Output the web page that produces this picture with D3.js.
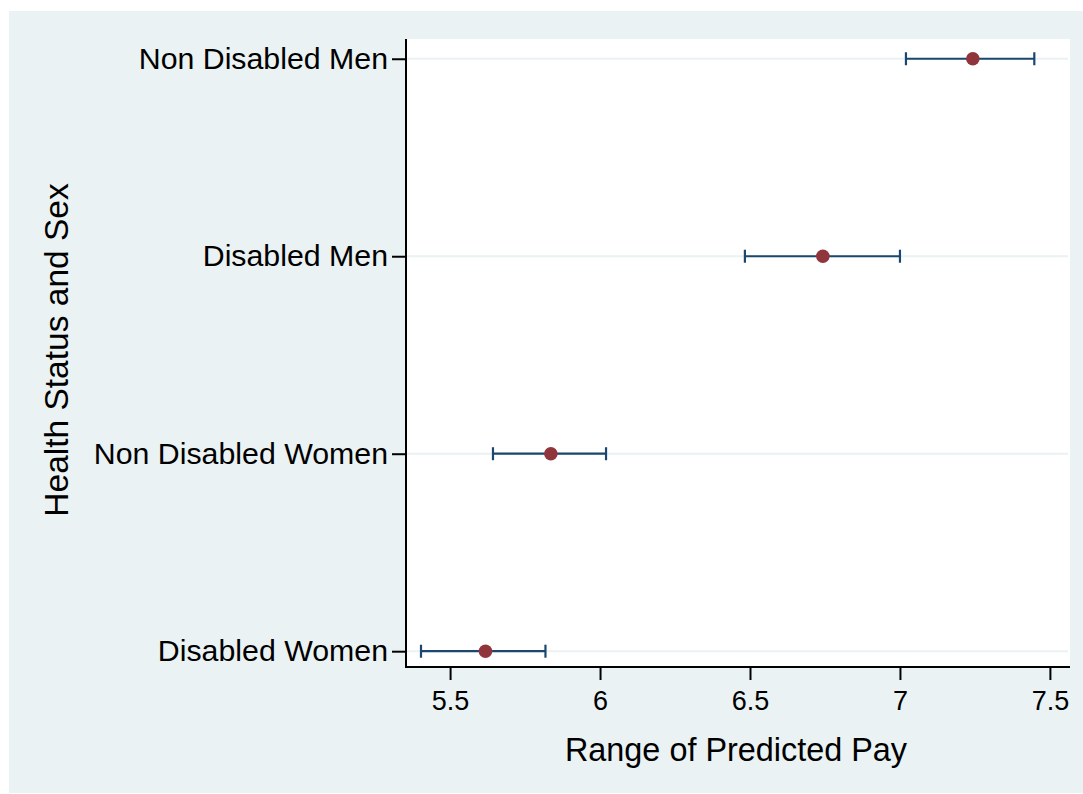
<!DOCTYPE html>
<html>
<head>
<meta charset="utf-8">
<script src="https://cdn.jsdelivr.net/npm/d3@7"></script>
<style>
  body { margin: 0; background: #ffffff; }
  svg text { font-family: "Liberation Sans", Arial, sans-serif; fill: #000; }
</style>
</head>
<body>
<div class="chartdiv"></div>
<script>
// categories top to bottom
const categories = ['Non Disabled Men', 'Disabled Men', 'Non Disabled Women', 'Disabled Women']
// predicted pay and confidence limits
const predicted = [7.243, 6.743, 5.836, 5.618]
const lowerCI = [7.020, 6.483, 5.643, 5.403]
const upperCI = [7.448, 7.000, 6.020, 5.818]
const xTicks = [5.5, 6, 6.5, 7, 7.5]

const W = 1083, H = 794
const plot = { left: 406, top: 39, right: 1070, bottom: 667 }

const svg = d3.select('.chartdiv').append('svg')
    .attr('width', W)
    .attr('height', H)

// outer graph region
svg.append('rect')
    .attr('x', 9).attr('y', 11)
    .attr('width', W - 9).attr('height', H - 12)
    .attr('fill', '#EAF2F3')

// plot region
svg.append('rect')
    .attr('x', plot.left).attr('y', plot.top)
    .attr('width', plot.right - plot.left).attr('height', plot.bottom - plot.top)
    .attr('fill', '#ffffff')

const xScale = d3.scaleLinear()
    .domain([5.353, 7.567])
    .range([plot.left, plot.right])

const yScale = d3.scaleLinear()
    .domain([-0.1, 3.08])
    .range([plot.top, plot.bottom])

const data = categories.map((c, i) => ({
    cat: c, idx: i, y: predicted[i], lo: lowerCI[i], hi: upperCI[i]
}))

// horizontal grid lines
svg.append('g')
    .selectAll('line')
    .data(data)
    .enter()
    .append('line')
    .attr('x1', plot.left + 1)
    .attr('x2', plot.right - 2)
    .attr('y1', d => yScale(d.idx))
    .attr('y2', d => yScale(d.idx))
    .attr('stroke', '#EAF2F3')
    .attr('stroke-width', 2)

// axes
let xAxis = d3.axisBottom(xScale)
    .tickValues(xTicks)
    .tickFormat(d3.format('~g'))
    .tickSize(13)
    .tickSizeOuter(0)
    .tickPadding(11)

let gx = svg.append('g')
    .attr('transform', 'translate(0,' + plot.bottom + ')')
    .call(xAxis)
gx.select('.domain').attr('stroke', '#000').attr('stroke-width', 2)
    .attr('d', 'M' + plot.left + ',0H' + plot.right)
gx.selectAll('.tick line').attr('stroke', '#000').attr('stroke-width', 2)
gx.selectAll('.tick text')
    .style('font-size', '27px')
    .attr('fill', '#000')
    .attr('font-family', null)

let yAxis = d3.axisLeft(yScale)
    .tickValues(d3.range(categories.length))
    .tickFormat(i => categories[i])
    .tickSize(14)
    .tickSizeOuter(0)
    .tickPadding(4)

let gy = svg.append('g')
    .attr('transform', 'translate(' + plot.left + ',0)')
    .call(yAxis)
gy.select('.domain').attr('stroke', '#000').attr('stroke-width', 2)
    .attr('d', 'M0,' + plot.top + 'V' + (plot.bottom + 1))
gy.selectAll('.tick line').attr('stroke', '#000').attr('stroke-width', 2)
gy.selectAll('.tick text')
    .style('font-size', '30.3px')
    .attr('fill', '#000')
    .attr('font-family', null)

// error bars
let bars = svg.append('g').selectAll('g')
    .data(data)
    .enter()
    .append('g')

bars.append('line')
    .attr('x1', d => xScale(d.lo))
    .attr('x2', d => xScale(d.hi))
    .attr('y1', d => yScale(d.idx))
    .attr('y2', d => yScale(d.idx))
    .attr('stroke', '#1A476F')
    .attr('stroke-width', 2.2)

const capH = 6.5
bars.selectAll('.cap')
    .data(d => [{ x: d.lo, idx: d.idx }, { x: d.hi, idx: d.idx }])
    .enter()
    .append('line')
    .attr('class', 'cap')
    .attr('x1', d => xScale(d.x))
    .attr('x2', d => xScale(d.x))
    .attr('y1', d => yScale(d.idx) - capH)
    .attr('y2', d => yScale(d.idx) + capH)
    .attr('stroke', '#1A476F')
    .attr('stroke-width', 2.2)

// predicted points
svg.append('g')
    .selectAll('circle')
    .data(data)
    .enter()
    .append('circle')
    .attr('cx', d => xScale(d.y))
    .attr('cy', d => yScale(d.idx))
    .attr('r', 6.8)
    .attr('fill', '#90353B')

// axis titles
svg.append('text')
    .attr('x', 736)
    .attr('y', 761)
    .attr('text-anchor', 'middle')
    .style('font-size', '32.4px')
    .text('Range of Predicted Pay')

svg.append('text')
    .attr('transform', 'translate(68,' + 350 + ') rotate(-90)')
    .attr('text-anchor', 'middle')
    .style('font-size', '33.5px')
    .text('Health Status and Sex')
</script>
</body>
</html>
